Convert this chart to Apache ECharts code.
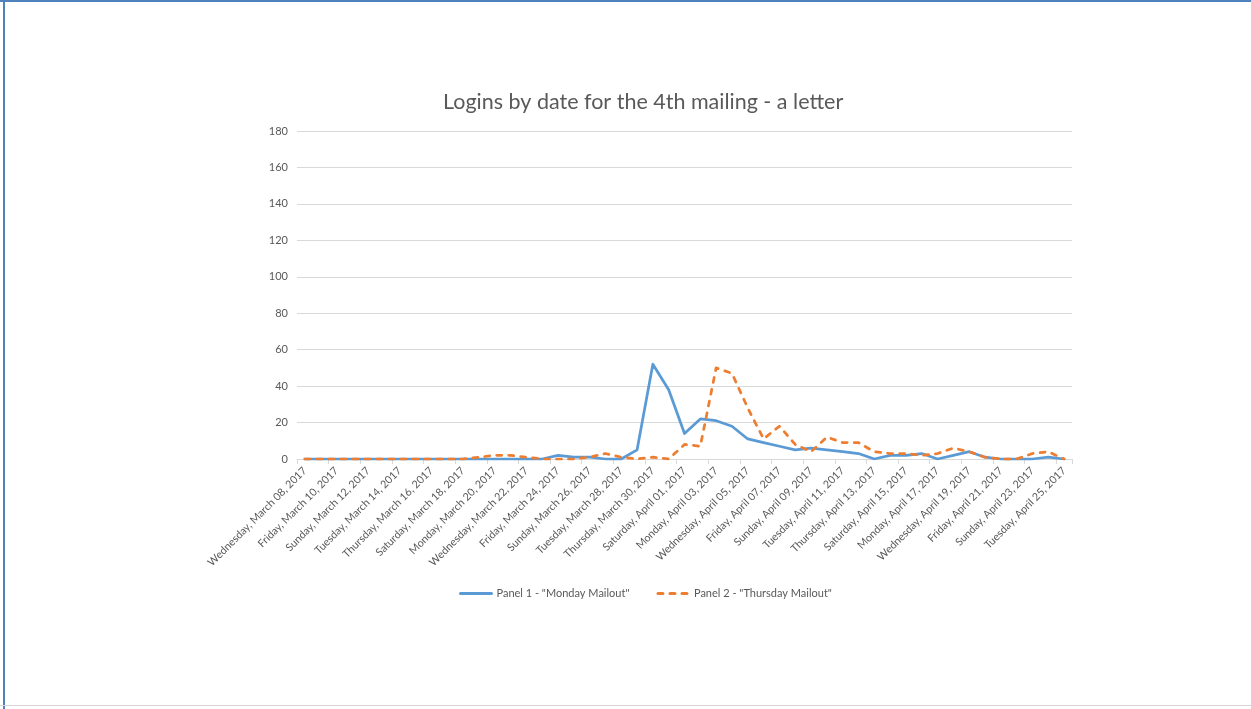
<!DOCTYPE html>
<html>
<head>
<meta charset="utf-8">
<script src="https://cdn.jsdelivr.net/npm/echarts@6/dist/echarts.min.js"></script>
<style>
  html, body { margin: 0; padding: 0; background: #fff; }
  #chart { width: 1251px; height: 709px; }
  .frame-top { position: absolute; left: 0; top: 0; width: 1251px; height: 2px; background: #4f81bd; }
  .frame-left { position: absolute; left: 3px; top: 0; width: 2px; height: 709px; background: #4f81bd; }
  .frame-bottom { position: absolute; left: 0; top: 705px; width: 1251px; height: 1px; background: #d6d6d6; }
</style>
</head>
<body>
<div id="chart"></div>
<div class="frame-top"></div>
<div class="frame-left"></div>
<div class="frame-bottom"></div>
<script>
// one category per day, Mar 08 - Apr 25 2017
const dates = [
  'Wednesday, March 08, 2017', 'Thursday, March 09, 2017', 'Friday, March 10, 2017',
  'Saturday, March 11, 2017', 'Sunday, March 12, 2017', 'Monday, March 13, 2017',
  'Tuesday, March 14, 2017', 'Wednesday, March 15, 2017', 'Thursday, March 16, 2017',
  'Friday, March 17, 2017', 'Saturday, March 18, 2017', 'Sunday, March 19, 2017',
  'Monday, March 20, 2017', 'Tuesday, March 21, 2017', 'Wednesday, March 22, 2017',
  'Thursday, March 23, 2017', 'Friday, March 24, 2017', 'Saturday, March 25, 2017',
  'Sunday, March 26, 2017', 'Monday, March 27, 2017', 'Tuesday, March 28, 2017',
  'Wednesday, March 29, 2017', 'Thursday, March 30, 2017', 'Friday, March 31, 2017',
  'Saturday, April 01, 2017', 'Sunday, April 02, 2017', 'Monday, April 03, 2017',
  'Tuesday, April 04, 2017', 'Wednesday, April 05, 2017', 'Thursday, April 06, 2017',
  'Friday, April 07, 2017', 'Saturday, April 08, 2017', 'Sunday, April 09, 2017',
  'Monday, April 10, 2017', 'Tuesday, April 11, 2017', 'Wednesday, April 12, 2017',
  'Thursday, April 13, 2017', 'Friday, April 14, 2017', 'Saturday, April 15, 2017',
  'Sunday, April 16, 2017', 'Monday, April 17, 2017', 'Tuesday, April 18, 2017',
  'Wednesday, April 19, 2017', 'Thursday, April 20, 2017', 'Friday, April 21, 2017',
  'Saturday, April 22, 2017', 'Sunday, April 23, 2017', 'Monday, April 24, 2017',
  'Tuesday, April 25, 2017'
]

const mondayMailout = [
  0, 0, 0, 0, 0, 0, 0, 0, 0, 0,
  0, 0, 0, 0, 0, 0, 2, 1, 1, 0,
  0, 5, 52, 38, 14, 22, 21, 18, 11, 9,
  7, 5, 6, 5, 4, 3, 0, 2, 2, 3,
  0, 2, 4, 1, 0, 0, 0, 1, 0
]

const thursdayMailout = [
  0, 0, 0, 0, 0, 0, 0, 0, 0, 0,
  0, 1, 2, 2, 1, 0, 0, 0, 1, 3,
  1, 0, 1, 0, 8, 7, 50, 47, 28, 11,
  18, 8, 4, 12, 9, 9, 4, 3, 3, 2,
  3, 6, 4, 1, 0, 0, 3, 4, 0
]

const yTicks = { min: 0, max: 180, interval: 20 }

const chart = echarts.init(document.getElementById('chart'))
const textColor = '#595959'
const font = 'Lato, "Open Sans", sans-serif'

chart.setOption({
  animation: false,
  textStyle: { fontFamily: font },
  title: {
    text: 'Logins by date for the 4th mailing - a letter',
    left: 438,
    top: 86,
    textStyle: { fontSize: 21.5, fontWeight: 'normal', color: textColor, fontFamily: font }
  },
  legend: {
    bottom: 105,
    left: 454,
    itemWidth: 31,
    itemHeight: 10,
    itemGap: 27,
    itemStyle: { opacity: 0 },
    lineStyle: { width: 3 },
    textStyle: { fontSize: 11, color: textColor, fontFamily: font },
    data: ['Panel 1 - "Monday Mailout"', 'Panel 2 - "Thursday Mailout"']
  },
  grid: { left: 297, right: 179, top: 131, bottom: 250, containLabel: false },
  xAxis: {
    type: 'category',
    data: dates,
    boundaryGap: true,
    axisLine: { lineStyle: { color: '#d9d9d9', width: 1 } },
    axisTick: { show: true, interval: 1, length: 5, lineStyle: { color: '#d9d9d9' } },
    axisLabel: {
      interval: 1,
      rotate: 45,
      fontSize: 10.7,
      color: textColor,
      margin: 10,
      fontFamily: font
    }
  },
  yAxis: {
    type: 'value',
    min: yTicks.min,
    max: yTicks.max,
    interval: yTicks.interval,
    axisLine: { show: false },
    axisTick: { show: false },
    splitLine: { lineStyle: { color: '#d9d9d9', width: 1 } },
    axisLabel: { fontSize: 11, color: textColor, margin: 9, fontFamily: font }
  },
  series: [{
    name: 'Panel 1 - "Monday Mailout"',
    type: 'line',
    data: mondayMailout,
    symbol: 'none',
    color: '#5b9bd5',
    lineStyle: { color: '#5b9bd5', width: 2.75, cap: 'round', join: 'round' }
  }, {
    name: 'Panel 2 - "Thursday Mailout"',
    type: 'line',
    data: thursdayMailout,
    symbol: 'none',
    color: '#ed7d31',
    lineStyle: { color: '#ed7d31', width: 2.75, type: [5, 7], cap: 'round', join: 'round' }
  }]
})
</script>
</body>
</html>
